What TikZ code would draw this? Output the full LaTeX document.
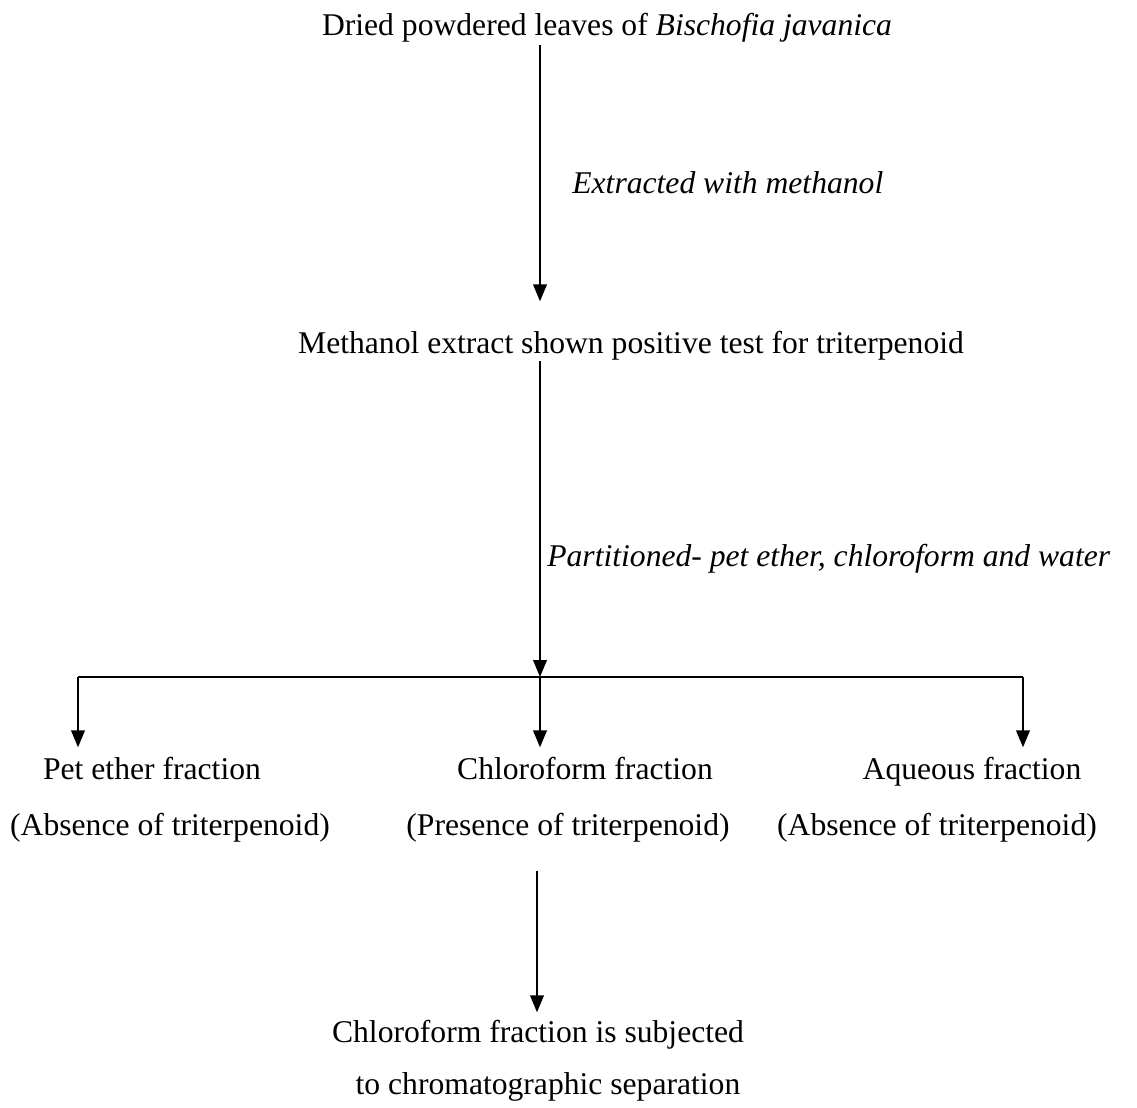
\documentclass[tikz,border=0pt]{standalone}
\usepackage{fontspec}
\setmainfont{Liberation Serif}
\usetikzlibrary{arrows.meta}

\tikzset{
  txt/.style={inner sep=0pt, anchor=base, font=\fontsize{18}{22}\selectfont},
  flow/.style={-{Triangle[length=0.34cm,width=0.27cm]}, line width=0.045cm, black}
}

\begin{document}
\begin{tikzpicture}[x=0.02cm, y=-0.02cm]
\useasboundingbox (0,0) rectangle (1137,1108);

\node[txt] (leaves) at (607,36) {Dried powdered leaves of \textit{Bischofia javanica}};
\node[txt] (extract) at (631,354) {Methanol extract shown positive test for triterpenoid};
\node[txt, anchor=base west] (step1) at (572,194) {\textit{Extracted with methanol}};
\node[txt, anchor=base west] (step2) at (547,566) {\textit{Partitioned- pet ether, chloroform and water}};

\coordinate (split) at (540,677);
\coordinate (splitL) at (78,677);
\coordinate (splitR) at (1023,677);

\node[txt] (pet) at (152,779) {Pet ether fraction};
\node[txt] (petN) at (170,835) {(Absence of triterpenoid)};
\node[txt] (chl) at (585,779) {Chloroform fraction};
\node[txt] (chlN) at (568,835) {(Presence of triterpenoid)};
\node[txt] (aq) at (972,779) {Aqueous fraction};
\node[txt] (aqN) at (937,835) {(Absence of triterpenoid)};

\node[txt] (sub1) at (538,1042) {Chloroform fraction is subjected};
\node[txt] (sub2) at (548,1094) {to chromatographic separation};

\draw[flow] ([yshift=-0.04cm]leaves.south -| split) -- ([yshift=0.6cm]extract.north -| split);
\draw[flow] (extract.south -| split) -- (split);
\draw[line width=0.045cm, black] (splitL) -- (splitR);
\draw[flow] (splitL) -- ([yshift=0.18cm]pet.north -| splitL);
\draw[flow] (split) -- ([yshift=0.18cm]chl.north -| split);
\draw[flow] (splitR) -- ([yshift=0.18cm]chl.north -| splitR);
\draw[flow] ([yshift=-0.58cm]chlN.south -| 537,0) -- ([yshift=0.14cm]sub1.north -| 537,0);
\end{tikzpicture}
\end{document}
